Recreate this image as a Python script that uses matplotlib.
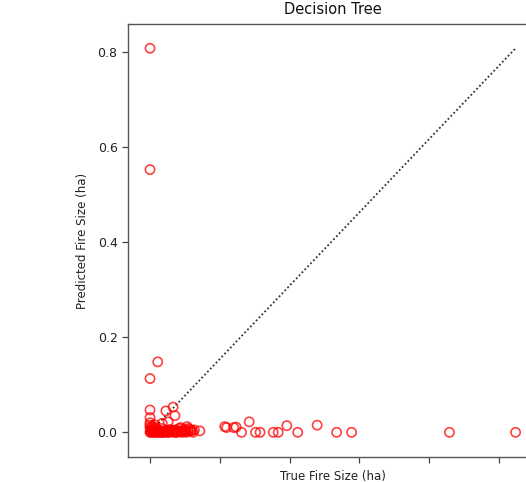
import matplotlib
matplotlib.use("Agg")
import matplotlib.pyplot as plt

# True vs predicted fire size (ha)
true_size = [0.000, 0.000, 0.000, 0.017, 0.000, 0.000, 0.035, 0.051, 0.055, 0.027, 0.040,
             0.000, 0.002, 0.004, 0.006, 0.008, 0.010, 0.012, 0.015, 0.018, 0.020,
             0.022, 0.025, 0.028, 0.030, 0.033, 0.036, 0.040, 0.044, 0.048, 0.052,
             0.056, 0.060, 0.064, 0.068, 0.072, 0.076, 0.080, 0.082, 0.085, 0.090,
             0.000, 0.000, 0.000, 0.005, 0.010,
             0.001, 0.003, 0.005, 0.007, 0.009, 0.011, 0.013, 0.016, 0.019, 0.021,
             0.024, 0.027, 0.031, 0.034, 0.038, 0.042, 0.046, 0.050, 0.054, 0.058,
             0.062, 0.066, 0.070, 0.074, 0.078, 0.084, 0.088, 0.092, 0.095, 0.098,
             0.110, 0.165, 0.169, 0.185, 0.190, 0.202, 0.219, 0.233, 0.243, 0.272,
             0.283, 0.302, 0.326, 0.369, 0.412, 0.445, 0.661, 0.807]
pred_size = [0.807, 0.552, 0.113, 0.148, 0.047, 0.031, 0.045, 0.053, 0.035, 0.019, 0.022,
             0.000, 0.004, 0.008, 0.002, 0.000, 0.006, 0.010, 0.000, 0.003, 0.005,
             0.000, 0.008, 0.000, 0.002, 0.000, 0.004, 0.000, 0.006, 0.003, 0.000,
             0.005, 0.000, 0.008, 0.010, 0.004, 0.006, 0.000, 0.012, 0.008, 0.003,
             0.010, 0.015, 0.020, 0.012, 0.016,
             0.002, 0.000, 0.005, 0.001, 0.003, 0.000, 0.004, 0.002, 0.000, 0.001,
             0.003, 0.000, 0.002, 0.001, 0.003, 0.000, 0.002, 0.004, 0.001, 0.000,
             0.003, 0.002, 0.000, 0.001, 0.003, 0.002, 0.006, 0.004, 0.000, 0.005,
             0.003, 0.012, 0.010, 0.010, 0.011, 0.000, 0.022, 0.000, 0.000, 0.000,
             0.000, 0.014, 0.000, 0.015, 0.000, 0.000, 0.000, 0.000]

x_ticks = [0.0, 0.154, 0.308, 0.462, 0.616, 0.770]
y_ticks = [0.0, 0.2, 0.4, 0.6, 0.8]
y_tick_labels = ["0.0", "0.2", "0.4", "0.6", "0.8"]

fig = plt.figure(figsize=(5.26, 4.82), dpi=100)
ax = fig.add_axes([128/526, (482-457.3)/482, 410/526, (457.3-24)/482])

ax.scatter(true_size, pred_size, s=44, facecolors='none', edgecolors='red',
           linewidths=1.2, alpha=0.75, zorder=3)
line_max_x = max(true_size)
line_max_y = max(pred_size)
ax.plot([0, line_max_x], [0, line_max_y], linestyle=(0, (1, 1.3)), color='#333333',
        linewidth=1.3, zorder=2)

ax.set_xlim(-0.0486, 0.8565)
ax.set_ylim(-0.0525, 0.858)
ax.set_xticks(x_ticks)
ax.set_xticklabels([''] * len(x_ticks))
ax.set_yticks(y_ticks)
ax.set_yticklabels(y_tick_labels, fontsize=9, color='#222222')
ax.tick_params(axis='both', direction='out', length=4, width=0.9, colors='#444444', labelcolor='#222222')

for sp in ['top', 'right', 'bottom', 'left']:
    ax.spines[sp].set_color('#555555')
    ax.spines[sp].set_linewidth(1.0)

ax.set_title("Decision Tree", fontsize=10.5, color='#111111', pad=7)
ax.set_xlabel("True Fire Size (ha)", fontsize=8.5, color='#222222', labelpad=2)
ax.set_ylabel("Predicted Fire Size (ha)", fontsize=8.5, color='#222222', labelpad=6)

fig.savefig("out.png", dpi=100)
